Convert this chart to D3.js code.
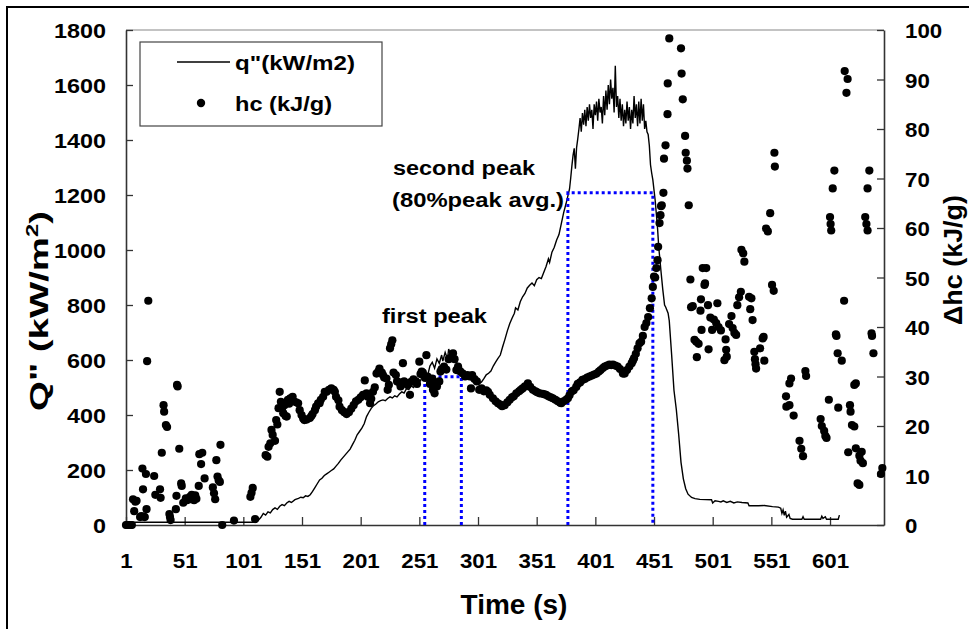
<!DOCTYPE html>
<html><head><meta charset="utf-8">
<script src="https://cdn.jsdelivr.net/npm/d3@7/dist/d3.min.js"></script>
<style>
body{margin:0;background:#fff;}
text{font-family:"Liberation Sans",Arial,sans-serif;font-weight:bold;fill:#000;}
</style></head>
<body><svg id="c" width="969" height="629"></svg>
<script>
// ---------- DATA ----------
const xTicks = [1,51,101,151,201,251,301,351,401,451,501,551,601];
const leftTicks = [0,200,400,600,800,1000,1200,1400,1600,1800];
const rightTicks = [0,10,20,30,40,50,60,70,80,90,100];

// q" (kW/m2) : [time, value]
const heatFlux = [
[1,10],[112,10],[114,18],[116,28],[118,42],[120,36],[122,48],[124,44],[126,56],[128,62],[130,57],[132,68],[134,74],[136,70],[138,80],[140,86],[142,82],[145,92],[148,97],[150,101],[152,99],[154,106],[156,104],[158,110],[160,122],[162,136],[164,150],[166,164],[168,170],[170,180],[172,186],[174,192],[176,198],[178,204],[180,214],[182,224],[184,236],[186,246],[188,256],[190,266],[192,276],[194,292],[196,308],[198,328],[200,340],[202,352],[204,368],[206,394],[208,410],[210,424],[212,434],[214,440],[216,448],[218,452],[220,455],[222,452],[224,460],[226,466],[228,462],[230,470],[232,466],[234,476],[236,484],[238,480],[240,496],[242,492],[244,506],[246,500],[248,515],[250,530],[252,524],[254,548],[256,556],[258,542],[260,578],[262,592],[264,570],[266,604],[268,588],[270,618],[271,596],[273,628],[275,604],[276,640],[278,612],[280,624],[281,598],[283,590],[285,570],[287,558],[289,548],[291,536],[293,532],[296,526],[299,518],[302,514],[304,520],[306,532],[308,546],[310,552],[312,560],[314,578],[316,592],[318,606],[320,618],[322,648],[324,676],[326,706],[328,732],[330,752],[332,770],[333,790],[335,782],[337,812],[339,830],[341,842],[343,862],[345,872],[347,880],[349,870],[351,892],[353,900],[355,896],[357,918],[359,940],[361,968],[362,955],[364,992],[366,1010],[368,1036],[370,1056],[372,1096],[374,1136],[376,1168],[378,1204],[379,1222],[380,1262],[381,1306],[382,1344],[383,1370],[384,1296],[385,1372],[386,1404],[387,1440],[388,1480],[389,1430],[390,1498],[391,1456],[392,1510],[393,1450],[394,1520],[395,1470],[396,1530],[397,1480],[398,1510],[399,1440],[400,1530],[401,1490],[402,1540],[403,1470],[404,1550],[405,1500],[406,1520],[407,1460],[408,1560],[409,1490],[410,1580],[411,1510],[412,1600],[413,1530],[414,1620],[415,1550],[416,1590],[417,1500],[418,1670],[419,1520],[420,1560],[421,1480],[422,1550],[423,1470],[424,1530],[425,1450],[426,1510],[427,1460],[428,1540],[429,1470],[430,1520],[431,1440],[432,1510],[433,1460],[434,1560],[435,1480],[436,1530],[437,1450],[438,1540],[439,1460],[440,1550],[441,1470],[442,1530],[443,1440],[444,1470],[445,1430],[446,1420],[447,1380],[448,1310],[449,1280],[450,1255],[452,1180],[454,1080],[455,1012],[457,920],[458.5,855],[460,800],[461,792],[463,770],[464,742],[466,620],[468,490],[470,420],[472,330],[474,228],[476,168],[478,132],[480,112],[483,100],[486,96],[490,93],[500,92],[501,80],[503,88],[506,86],[508,84],[510,88],[513,82],[516,86],[519,80],[522,84],[526,82],[531,80],[532,70],[540,70],[545,71],[552,67],[557,65],[559,61],[560,42],[561,55],[562,35],[563,50],[564,28],[566,38],[567,24],[569,21],[577,21],[578,30],[579,21],[593,21],[594,32],[595,24],[597,30],[598,21],[608,21],[609,36]
];

// hc (kJ/g) : [time, value]
const heatComb = [
[1,0],[2,0],[3,0],[4,0],[5,0],[6,0],[7,5.2],[8,2.8],[9,4.7],[10,4.9],[13,1.6],[14,1.8],[15,11.4],[15.5,7.2],[16,1.7],[17,1.6],[18,10.3],[18.5,3.2],[19,33.1],[20,45.3],[25,9.9],[26,6.1],[30,7.2],[30.5,5.5],[31.5,14.6],[33,24.2],[33.5,22.9],[35,20.2],[36,19.8],[38,2.2],[38.5,1.6],[39,1.0],[43.5,3.2],[44,5.9],[44.5,28.3],[45,28.0],[46.4,15.4],[48,8.4],[48.5,7.9],[49.8,4.5],[52,5.4],[53,5.0],[55.5,5.7],[56,5.2],[57,6.1],[58,5.7],[59,5.0],[60,6.0],[61,5.3],[63,7.9],[63.5,14.3],[65,12.3],[66,14.6],[68,9.4],[75,7.6],[76,6.4],[77,5.2],[78,13.1],[79,9.8],[80,9.0],[81,8.7],[81.5,16.2],[83,0],[93,0.9],[107,5.7],[108,6.5],[109,7.5],[111,1.2],
[120,14.1],[121.5,13.8],[122.5,15.8],[124,16.5],[125,19.2],[126,18.2],[128,17.0],[129,21.2],[130,20.3],[131,23.6],[132,26.9],[133,24.9],[134,23.6],[135,22.6],[136,24.2],[137,22.0],[138,21.9],[139,25.3],[140,24.5],[141,25.6],[143,25.9],[144,25.0],[146,24.8],[147.7,24.6],[149,23.2],[150.6,22.2],[152,21.5],[153,21.2],[155,21.3],[157.7,21.6],[159,22.0],[160,22.4],[162,23.2],[163,23.9],[164.7,24.6],[166,24.6],[167,25.3],[169,25.9],[170.4,26.9],[172,26.9],[174,27.3],[176,27.6],[178,27.3],[179,26.9],[180,25.9],[182,25.2],[183,23.9],[185,23.2],[187,22.8],[189,22.4],[191,22.8],[193,23.5],[195,24.2],[197,25.0],[199,25.3],[201,25.8],[203,26.3],[204.5,29.2],[206,26.6],[207,25.9],[209,24.6],[210,25.5],[211.5,26.9],[213,27.8],[214.5,30.6],[216,31.0],[217,31.6],[219,30.8],[220,30.3],[221,29.8],[223,29.6],[224,27.3],[225,28.3],[226,35.7],[227,36.5],[228,37.3],[229,30.8],[231,30.3],[232,29.0],[234,28.8],[235,28.0],[237,32.7],[238,29.0],[240,28.6],[241,28.3],[243,26.3],[244,28.9],[246,29.4],[248,29.0],[249,28.5],[251,33.0],[252,30.5],[253,31.0],[254,30.8],[256,29.7],[257,34.3],[258,30.0],[260,28.5],[262,29.6],[262.6,27.3],[264,26.6],[265.5,28.6],[266,28.0],[268,29.0],[269,31.0],[270,31.5],[272,32.0],[274,31.4],[276,33.5],[278,33.8],[279.7,34.7],[281,33.5],[282.6,31.3],[284,32.0],[285,31.2],[286,31.0],[288,30.6],[290,30.0],[292,30.3],[294,30.0],[295,27.6],[296,30.3],[298,29.5],[300,29.0],[302,27.3],[304,27.6],[306,27.0],[308,27.2],[309.5,26.9],[311,26.3],[313.7,25.6],[316,25.0],[318,24.6],[320,24.3],[321.5,24.0],[323.7,24.2],[326,24.8],[328,25.3],[330,25.8],[331.5,26.0],[333.7,26.6],[336,27.0],[337.5,27.3],[339,27.6],[341,28.0],[343.5,28.6],[345.5,27.9],[347.8,27.3],[350,27.0],[351.5,26.8],[353.5,26.6],[356,26.5],[357.5,26.4],[359,26.3],[361,26.0],[363,25.8],[364.8,25.6],[367,25.3],[369,25.0],[371,24.7],[372,24.6],[374,25.0],[376,25.3],[377.6,25.6],[379,26.2],[381,27.0],[382.5,27.2],[384.7,27.9],[386,28.5],[388,28.8],[390,29.3],[392,29.5],[394,29.8],[396,30.0],[398,30.2],[400,30.4],[402,30.6],[404,31.0],[405.5,31.3],[407.4,31.7],[409,32.0],[411,32.2],[413,32.4],[414.5,32.3],[416,32.4],[418,32.2],[420,32.0],[422,31.5],[424.5,30.6],[426,30.6],[428,31.3],[430,32.0],[432,32.7],[433,33.2],[434,33.7],[435.5,34.6],[437,35.7],[438.6,36.7],[440,37.0],[441.5,38.2],[443,40.0],[444.5,40.8],[446,42.0],[447.5,43.8],[449,45.8],[450,48.1],[451,50.2],[452,50.0],[453,51.9],[454,53.5],[454.5,56.2],[455.7,61.0],[456.5,62.6],[457,64.4],[457.6,64.6],[459,67.1],[459.5,74.0],[460.8,76.7],[462.5,83.0],[462.7,89.2],[464,98.3],
[474,96.3],[474.5,91.2],[475.5,86],[477.5,78.6],[478,75.2],[479,73.6],[479.5,72],[480.6,64.6],[482,49.6],[482.6,44],[484,44.2],[485.5,37.4],[487,37.0],[487.5,33.9],[489,36.6],[490.6,43.3],[491,45.6],[491.5,39.4],[492.5,51.9],[494,48.5],[494.5,48.8],[495.5,51.9],[497,44.4],[497.5,35.5],[499,41.9],[500.5,39.4],[502,41.5],[504,40.8],[505,44.8],[506,40.0],[508,39.3],[511,33.3],[512,37.5],[512.5,35.4],[513,34.0],[515,40.6],[517,42.2],[518,39.8],[519.5,38.8],[521,38.4],[522,44.4],[523.5,46.0],[525,47.1],[525.5,55.6],[527,54.9],[528,53.2],[532,46.1],[533,43.6],[534,45.8],[535,41.4],[536.5,35.0],[537,33.5],[537.5,32.5],[538,31.6],[541.4,35.7],[543.6,37.7],[544.4,38.0],[545,33.2],[546.5,59.9],[548,59.3],[550,63.0],[551.6,48.5],[553,47.3],[553.6,75.2],[554,72.4],[563.5,26.0],[563.8,23.9],[566.4,24.2],[570,22.1],[566.4,28.6],[567.8,29.6],[575,17.0],[576.5,15.4],[578,13.9],[580,31.1],[580.6,30.1],[593,21.4],[594,20.0],[596,19.0],[597,18.0],[598,17.6],[600,25.3],[601,62.2],[601.5,60.8],[602,59.5],[603.3,68.0],[604.7,71.6],[606,38.5],[606.5,38.2],[607.5,34.7],[608,23.7],[611,33.2],[613,45.3],[613.5,91.7],[615,87.3],[616,90.1],[616.5,14.7],[618,24.2],[618.5,22.9],[619.7,20.2],[621.7,19.9],[621.7,28.3],[623,28.6],[623,15.5],[624.5,8.4],[626,8.1],[626,14.0],[627,13.0],[628,14.8],[629,12.5],[631,62.2],[632,60.8],[633,59.5],[633,68.0],[634.5,71.6],[636.4,38.7],[636.8,38.2],[638,34.7],[644.4,10.3],[645.6,11.5]
];

// 80% peak-average windows (time start, time end, level in kW/m2)
const peakStart = [255.6, 377.6];
const peakEnd = [286.8, 450];
const peakLevel = [539, 1208];
const annotations = ["first peak", "second peak", "(80%peak avg.)"];
const legendLabels = ["q\"(kW/m2)", "hc (kJ/g)"];

// ---------- CHART ----------
const svg = d3.select("#c");
const L = 126, R = 884, T = 30, B = 525;
const x = d3.scaleLinear().domain([1, 647]).range([L, R]);
const yL = d3.scaleLinear().domain([0, 1800]).range([B, T]);
const yR = d3.scaleLinear().domain([0, 100]).range([B, T]);

// outer frame
svg.append("rect").attr("x",7).attr("y",7).attr("width",975).attr("height",640)
  .attr("fill","none").attr("stroke","#000").attr("stroke-width",2);

// plot top border
svg.append("line").attr("x1",L).attr("x2",R).attr("y1",T).attr("y2",T)
  .attr("stroke","#888").attr("stroke-width",1.2);

function styleAxis(g, per){
  g.select(".domain").attr("stroke","#333").attr("stroke-width",1.6);
  g.selectAll(".tick line").attr("stroke","#333").attr("stroke-width",1.3);
  g.selectAll(".tick text").attr("font-size",21).attr("font-family","Liberation Sans, Arial")
    .attr("font-weight","bold").attr("fill","#000")
    .attr("textLength", d => String(d).length*per).attr("lengthAdjust","spacingAndGlyphs");
}

const gx = svg.append("g").attr("transform",`translate(0,${B})`)
  .call(d3.axisBottom(x).tickValues(xTicks).tickSizeInner(-8).tickSizeOuter(0).tickPadding(28).tickFormat(d3.format("d")));
styleAxis(gx, 12.4);
const gl = svg.append("g").attr("transform",`translate(${L},0)`)
  .call(d3.axisLeft(yL).tickValues(leftTicks).tickSizeInner(-7).tickSizeOuter(0).tickPadding(20).tickFormat(d3.format("d")));
styleAxis(gl, 13.0);
gl.selectAll(".tick text").attr("dy","0.36em");
const gr = svg.append("g").attr("transform",`translate(${R},0)`)
  .call(d3.axisRight(yR).tickValues(rightTicks).tickSizeInner(-7).tickSizeOuter(0).tickPadding(21).tickFormat(d3.format("d")));
styleAxis(gr, 12.4);
gr.selectAll(".tick text").attr("dy","0.36em");

// heat flux line
svg.append("path").datum(heatFlux)
  .attr("d", d3.line().x(d=>x(d[0])).y(d=>yL(d[1])))
  .attr("fill","none").attr("stroke","#000").attr("stroke-width",1.4);

// blue dotted peak windows
peakStart.forEach((s,i)=>{
  const p = d3.path();
  p.moveTo(x(s), yL(0)); p.lineTo(x(s), yL(peakLevel[i]));
  p.lineTo(x(peakEnd[i]), yL(peakLevel[i])); p.lineTo(x(peakEnd[i]), yL(0));
  svg.append("path").attr("d",p.toString()).attr("fill","none")
    .attr("stroke","#0000ff").attr("stroke-width",3).attr("stroke-dasharray","3,3");
});

// heat of combustion dots
svg.append("g").selectAll("circle").data(heatComb).join("circle")
  .attr("cx",d=>x(d[0])).attr("cy",d=>yR(d[1])).attr("r",4.1).attr("fill","#000");

// annotations
svg.append("text").attr("x",382).attr("y",323).attr("font-size",20).text(annotations[0])
  .attr("textLength",105).attr("lengthAdjust","spacingAndGlyphs");
svg.append("text").attr("x",393).attr("y",175).attr("font-size",20).text(annotations[1])
  .attr("textLength",142).attr("lengthAdjust","spacingAndGlyphs");
svg.append("text").attr("x",392).attr("y",207).attr("font-size",20).text(annotations[2])
  .attr("textLength",172).attr("lengthAdjust","spacingAndGlyphs");

// legend
svg.append("rect").attr("x",140).attr("y",42).attr("width",242).attr("height",84)
  .attr("fill","#fff").attr("stroke","#444").attr("stroke-width",1.2);
svg.append("line").attr("x1",177).attr("x2",230).attr("y1",62).attr("y2",62)
  .attr("stroke","#000").attr("stroke-width",1.6);
svg.append("text").attr("x",235).attr("y",70).attr("font-size",21).text(legendLabels[0])
  .attr("textLength",120).attr("lengthAdjust","spacingAndGlyphs");
svg.append("circle").attr("cx",201).attr("cy",103).attr("r",4.2).attr("fill","#000");
svg.append("text").attr("x",235).attr("y",111).attr("font-size",21).text(legendLabels[1])
  .attr("textLength",97).attr("lengthAdjust","spacingAndGlyphs");

// axis titles
svg.append("text").attr("x",514).attr("y",614).attr("text-anchor","middle")
  .attr("font-size",28).text("Time (s)");
const yt = svg.append("text").attr("transform","translate(48,311) rotate(-90)")
  .attr("text-anchor","middle").attr("font-size",26)
  .attr("textLength",200).attr("lengthAdjust","spacingAndGlyphs");
yt.append("tspan").text("Q\" (kW/m");
yt.append("tspan").attr("font-size",16).attr("dy",-10).text("2");
yt.append("tspan").attr("dy",10).text(")");
svg.append("text").attr("transform","translate(962,260) rotate(-90)")
  .attr("text-anchor","middle").attr("font-size",25)
  .attr("textLength",130).attr("lengthAdjust","spacingAndGlyphs").text("\u0394hc (kJ/g)");
</script></body></html>
